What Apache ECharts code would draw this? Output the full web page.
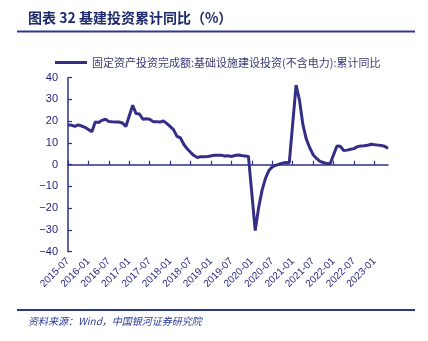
<!DOCTYPE html>
<html>
<head>
<meta charset="utf-8">
<script src="https://cdn.jsdelivr.net/npm/echarts@6/dist/echarts.min.js"></script>
<style>
  html, body { margin: 0; padding: 0; background: #ffffff; }
  #chart { width: 428px; height: 341px; }
</style>
</head>
<body>
<div id="chart"></div>
<script>
// Monthly categories, 2015-07 .. 2023-05 (January has no cumulative figure)
const months = [];
for (let y = 2015; y <= 2023; y++) {
  for (let m = 1; m <= 12; m++) {
    if (y === 2015 && m < 7) continue;
    if (y === 2023 && m > 5) continue;
    months.push(y + '-' + (m < 10 ? '0' + m : m));
  }
}

// Infrastructure investment (excluding power), cumulative YoY, %
const values2015 = [18.3, 18.2, 17.6, 18.3, 17.8, 17.2];
const values2016 = [null, 15.1, 19.6, 19.4, 20.4, 20.9, 19.9, 19.7, 19.6, 19.6, 19.2, 17.6];
const values2017 = [null, 27.3, 23.5, 23.3, 20.9, 21.1, 20.9, 19.8, 19.8, 19.6, 20.1, 19.0];
const values2018 = [null, 16.1, 13.0, 12.4, 9.4, 7.3, 5.7, 4.2, 3.3, 3.7, 3.7, 3.8];
const values2019 = [null, 4.3, 4.4, 4.4, 4.0, 4.1, 3.8, 4.2, 4.5, 4.2, 4.0, 3.8];
const values2020 = [null, -30.3, -19.7, -11.8, -6.3, -2.7, -1.0, -0.3, 0.2, 0.7, 1.0, 0.9];
const values2021 = [null, 36.6, 29.7, 18.4, 11.8, 7.8, 4.6, 2.9, 1.5, 1.0, 0.5, 0.4];
const values2022 = [null, 8.6, 8.5, 6.5, 6.7, 7.1, 7.4, 8.3, 8.6, 8.7, 8.9, 9.4];
const values2023 = [null, 9.0, 8.8, 8.5, 7.5];
const infraYoY = [].concat(values2015, values2016, values2017, values2018,
  values2019, values2020, values2021, values2022, values2023);

const yTicks = { min: -40, max: 40, step: 10 };

const seriesName = '固定资产投资完成额:基础设施建设投资(不含电力):累计同比';
const titleText = '图表 32 基建投资累计同比（%）';
const sourceText = '资料来源：Wind，中国银河证券研究院';

const navy = '#2b2f86';
const lineColor = '#332f86';
const textColor = '#1f1f7a';

// half-year marks: every sixth month from the first category
const halfYear = function (idx) { return idx % 6 === 0; };

const chart = echarts.init(document.getElementById('chart'), null, { renderer: 'canvas' });
chart.setOption({
  animation: false,
  backgroundColor: '#ffffff',
  grid: { left: 68, right: 40, top: 77.7, height: 174 },
  legend: {
    left: 50, top: 52,
    icon: 'rect', itemWidth: 32, itemHeight: 3, itemGap: 4,
    textStyle: { fontFamily: 'Noto Sans CJK SC', fontSize: 11, color: '#3a3a78' },
    data: [seriesName]
  },
  xAxis: [
    {
      type: 'category', data: months, boundaryGap: false,
      axisLine: { onZero: true, lineStyle: { color: navy, width: 1.5 } },
      axisTick: { inside: true, length: 4, interval: halfYear, lineStyle: { color: navy, width: 1.2 } },
      axisLabel: { show: false }
    },
    {
      type: 'category', data: months, boundaryGap: false, position: 'bottom',
      axisLine: { show: false, onZero: false },
      axisTick: { show: false },
      axisLabel: {
        interval: halfYear, rotate: 45, margin: 8, hideOverlap: false,
        fontFamily: 'Liberation Sans', fontSize: 10, color: textColor
      }
    }
  ],
  yAxis: {
    type: 'value', min: yTicks.min, max: yTicks.max, interval: yTicks.step,
    splitLine: { show: false },
    axisLine: { show: true, lineStyle: { color: navy, width: 1.5 } },
    axisTick: { show: true, inside: true, length: 4, lineStyle: { color: navy, width: 1.2 } },
    axisLabel: {
      margin: 10, fontFamily: 'Liberation Sans', fontSize: 11, color: textColor,
      formatter: function (v) { return String(v).replace('-', '\u2212'); }
    }
  },
  series: [{
    name: seriesName, type: 'line', data: infraYoY, xAxisIndex: 0,
    connectNulls: true, showSymbol: false, symbol: 'none',
    lineStyle: { color: lineColor, width: 3 },
    itemStyle: { color: lineColor }
  }],
  graphic: [
    { type: 'text', left: 28, top: 11,
      style: { text: titleText, font: 'bold 14px "Noto Sans CJK SC"', fill: '#1e2a6b' } },
    { type: 'rect', shape: { x: 17, y: 30.5, width: 398, height: 2 }, style: { fill: '#2b3990' } },
    { type: 'rect', shape: { x: 17, y: 309, width: 398, height: 2 }, style: { fill: '#2b3990' } },
    { type: 'text', left: 28, top: 316,
      style: { text: sourceText, font: 'italic 10px "Noto Sans CJK SC"', fill: '#2b3990' } }
  ]
});
</script>
</body>
</html>
